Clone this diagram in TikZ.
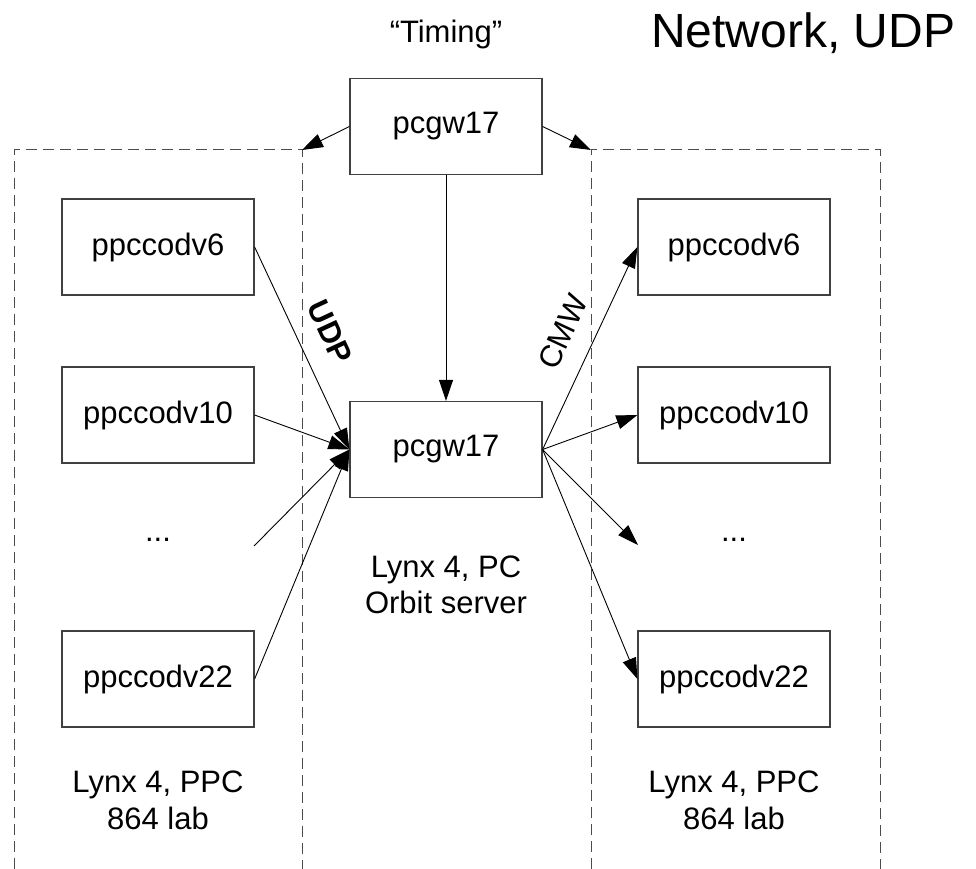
\documentclass[tikz,border=0pt]{standalone}
\usepackage{fontspec}
\setmainfont{Liberation Sans}
\usetikzlibrary{arrows.meta}
\begin{document}
\begin{tikzpicture}[x=1pt,y=-1pt,
  box/.style={draw=black!75, line width=1.2pt, minimum width=192pt, minimum height=96pt, inner sep=0pt, font=\fontsize{31}{37}\selectfont},
  lbl/.style={inner sep=0pt, anchor=base, font=\fontsize{31}{37}\selectfont},
  conn/.style={line width=0.9pt, -{Triangle[length=21pt,width=14pt]}},
  region/.style={draw=black!70, line width=1pt, dash pattern=on 11pt off 6pt}]
\useasboundingbox (0,0) rectangle (976,869);

% dashed regions
\coordinate (lc) at (302,150);
\coordinate (rc) at (591,150);
\coordinate (lbl0) at (14,869);
\coordinate (lbr0) at (302,869);
\coordinate (rbl0) at (591,869);
\coordinate (rbr0) at (880,869);
\draw[region] (lbl0) |- (lc) -- (lbr0);
\draw[region] (rbl0) -- (rc) -| (rbr0);

% nodes
\node[box] (top) at (446,126.5) {pcgw17};
\node[box] (srv) at (446,449.5) {pcgw17};
\node[box] (l6)  at (158,247) {ppccodv6};
\node[box] (l10) at (158,415) {ppccodv10};
\node[box] (l22) at (158,679) {ppccodv22};
\node[box] (r6)  at (734,247) {ppccodv6};
\node[box] (r10) at (734,415) {ppccodv10};
\node[box] (r22) at (734,679) {ppccodv22};
\node[lbl] (ldots) at (158,541) {...};
\node[lbl] (rdots) at (734,541) {...};
\coordinate (lfree) at (254,546);
\coordinate (rfree) at (638,545);

% labels
\node[lbl] (timing) at (446,43) {“Timing”};
\node[lbl, anchor=base west, font=\fontsize{48}{54}\selectfont] (title) at (651,48) {Network, UDP};
\node[lbl] (srvA) at (446,577) {Lynx 4, PC};
\node[lbl] (srvB) at (446,613) {Orbit server};
\node[lbl] (lA) at (158,792) {Lynx 4, PPC};
\node[lbl] (lB) at (158,829) {864 lab};
\node[lbl] (rA) at (734,792) {Lynx 4, PPC};
\node[lbl] (rB) at (734,829) {864 lab};
\node[inner sep=0pt, rotate=-65, font=\fontsize{31}{37}\selectfont\bfseries] (udp) at (330,332) {UDP};
\node[inner sep=0pt, rotate=65, font=\fontsize{31}{37}\selectfont] (cmw) at (563,332) {CMW};

% connectors
\draw[conn] (top.west) -- (lc);
\draw[conn] (top.east) -- (rc);
\draw[conn] (top.south) -- (srv.north);
\draw[conn] (l6.east) -- (srv.west);
\draw[conn] (l10.east) -- (srv.west);
\draw[conn] (lfree) -- (srv.west);
\draw[conn] (l22.east) -- (srv.west);
\draw[conn] (srv.east) -- (r6.west);
\draw[conn] (srv.east) -- (r10.west);
\draw[conn] (srv.east) -- (rfree);
\draw[conn] (srv.east) -- (r22.west);
\end{tikzpicture}
\end{document}
